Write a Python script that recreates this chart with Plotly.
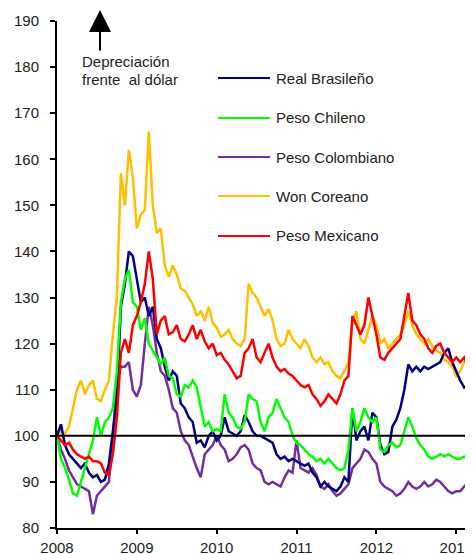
import numpy as np
import plotly.graph_objects as go

# fecha en fraccion de año, cada 0.05 años desde 2008
fechas = [round(2008 + 0.05 * i, 2) for i in range(105)]

won_coreano = [
    100, 101, 100.5, 102, 106, 110, 112, 109, 111, 112, 108, 107.5, 110, 112, 122, 130,
    157, 150, 162, 156, 145, 148, 149, 166, 150, 144, 145, 137, 134.5, 137, 135, 132,
    131.5, 130, 128.5, 126, 127, 125, 128, 124.5, 123.5, 121.5, 122, 123, 121, 120, 119.5,
    121, 133, 131, 130, 128, 126, 127.5, 125, 121, 119.5, 120, 123, 121, 120, 119, 121,
    119.5, 117, 116, 117, 115.5, 116, 114, 113, 112.5, 114, 116, 125, 127, 121, 120, 123,
    126, 124, 120, 121, 119, 120, 121, 122, 124, 127, 124, 122, 121, 120, 121, 119.5,
    118.5, 118, 116.5, 116, 115, 113, 114, 116, 117, 119,
]
peso_mexicano = [
    100, 99, 98, 98.5, 97, 96, 95.5, 95, 95.5, 94.5, 94.5, 94, 92, 91.5, 96, 104,
    118, 121, 118, 124, 126, 129, 133, 140, 134, 122, 125, 126, 122, 122.5, 124, 121,
    120.5, 122, 124, 121, 123, 120.5, 119, 120, 117.5, 118, 116.5, 115.5, 114, 112.5, 113,
    118, 119, 121, 117, 116, 118, 120, 117, 115, 114, 114.5, 113.5, 113, 112, 111, 110.5,
    111, 109, 108, 106.5, 107.5, 109, 108, 107, 109, 112, 113, 126, 124, 122, 124, 130,
    126, 122, 117, 116.5, 118, 119, 120, 121, 126, 131, 125, 124, 122, 121, 119, 118,
    119.5, 120, 118, 117, 116, 117, 116, 117, 115, 114,
]
real_brasileno = [
    100, 102.5, 98, 96, 95, 94, 93, 94, 92, 91, 91.5, 90, 90.5, 94, 101, 108,
    128, 133, 140, 139, 134, 129, 130, 126, 128, 121, 119, 115, 112, 114, 113, 107,
    106, 104, 103, 98.5, 99, 97.5, 100, 101, 99, 100, 104, 101, 100.5, 100, 101,
    104.5, 103, 101, 100, 100, 99.5, 99, 98.5, 96, 95, 95.5, 94.5, 95, 94.5, 94, 93.5,
    94, 92, 91, 89, 90, 89, 88.5, 88, 89, 91, 90, 106, 99, 101, 102, 99,
    105, 104, 98, 96, 96.5, 102, 103.5, 106, 110, 115.5, 114, 115, 114, 115, 114.5, 115,
    115.5, 116, 118, 119, 116, 114, 112, 110.5, 111, 114,
]
peso_chileno = [
    100, 95, 93, 90.5, 87.5, 87, 90, 93, 96, 99, 104, 100, 103, 104, 106, 114,
    129, 134, 136, 129, 128, 123, 125.5, 120, 118.5, 117, 115.5, 117, 113, 112.5, 109, 108.5,
    111, 110.5, 112, 110.5, 106, 102, 103, 101, 101.5, 101, 109, 105, 104, 102, 101.5,
    103, 109, 108, 107.5, 103, 101, 104, 105, 108, 106, 104, 103, 100, 98.5, 98, 97,
    96, 95.5, 94.5, 95, 94, 95, 94, 93, 92.5, 93, 97, 106, 101, 103, 106, 104,
    103, 104, 97, 96.5, 98, 98.5, 97.5, 98, 101, 104, 102, 99.5, 98, 97, 95.5, 95,
    95.5, 96, 95.5, 96, 95.5, 95, 95, 95.5, 95, 95,
]
peso_colombiano = [
    100, 97, 95, 92.5, 91, 89.5, 89, 88.5, 88, 83, 87, 88, 89, 90, 100, 112,
    115, 115, 116, 110, 108.5, 111, 120, 128, 124, 118, 114, 113, 110, 106, 105, 101,
    99, 98, 95.5, 93, 91, 96, 97, 98, 100, 98, 97, 94.5, 95, 96, 97.5,
    98, 97, 94, 93, 92.5, 90, 89.5, 90, 89.5, 89, 91, 92.5, 92, 99, 93, 92.5,
    92, 93, 91.5, 89, 88.5, 89.5, 88, 87, 87.5, 88.5, 89.5, 93, 94, 95, 97, 96.5,
    95, 94, 90, 89, 88.5, 88, 87, 87.5, 88.5, 90, 89, 88.5, 89, 90, 89, 89.5,
    90.5, 90, 89, 88, 87.5, 88, 88, 89, 90, 90.5,
]

nombres = ["Real Brasileño", "Peso Chileno", "Peso Colombiano", "Won Coreano", "Peso Mexicano"]
colores = ["#000080", "#00FF00", "#7030A0", "#FFC000", "#FF0000"]
series = [real_brasileno, peso_chileno, peso_colombiano, won_coreano, peso_mexicano]
orden = [3, 2, 0, 1, 4]  # orden de dibujo

anios = [2008, 2009, 2010, 2011, 2012, 2013]
y_ticks = list(range(80, 191, 10))

fig = go.Figure()
for i in orden:
    fig.add_trace(go.Scatter(
        x=fechas, y=series[i], mode="lines", name=nombres[i],
        line=dict(color=colores[i], width=2.5), showlegend=False,
    ))

fig.add_hline(y=100, line=dict(color="black", width=2))

# leyenda manual (posiciones en pixeles de la pagina -> coords del area de dibujo)
filas_y = [78, 118, 157, 196, 236]
for nombre, color, py in zip(nombres, colores, filas_y):
    yp = (528 - py) / 507
    fig.add_shape(type="line", xref="paper", yref="paper",
                  x0=(218 - 57) / 416, x1=(270 - 57) / 416, y0=yp, y1=yp,
                  line=dict(color=color, width=2))
    fig.add_annotation(text=nombre, xref="paper", yref="paper",
                       x=(274 - 57) / 416, y=yp, xanchor="left", yanchor="middle",
                       showarrow=False, font=dict(size=15))

fig.add_annotation(text="Depreciación", xref="paper", yref="paper",
                   x=(80 - 57) / 416, y=(528 - 62) / 507, xanchor="left", yanchor="middle",
                   showarrow=False, font=dict(size=15))
fig.add_annotation(text="frente  al dólar", xref="paper", yref="paper",
                   x=(80 - 57) / 416, y=(528 - 79) / 507, xanchor="left", yanchor="middle",
                   showarrow=False, font=dict(size=15))
fig.add_annotation(text="", xref="paper", yref="paper",
                   x=(100 - 57) / 416, y=(528 - 10) / 507,
                   axref="pixel", ayref="pixel", ax=0, ay=42,
                   showarrow=True, arrowhead=2, arrowwidth=2, arrowsize=2.2,
                   arrowcolor="black")

# la pagina tiene 8px de margen en el body
fig.update_layout(
    width=465, height=546,
    margin=dict(l=49, r=0, t=13, b=26),
    plot_bgcolor="white", paper_bgcolor="white",
    font=dict(family="Arial, Liberation Sans, sans-serif", size=15, color="#222"),
)
fig.update_xaxes(
    range=[2008, 2013.21], tickvals=anios, ticktext=[str(a) for a in anios],
    showgrid=False, zeroline=False, showline=True, linecolor="black", linewidth=2,
    ticks="outside", ticklen=4, tickwidth=1.5, tickcolor="black", ticklabelstandoff=1,
    automargin=False,
)
fig.update_yaxes(
    range=[80, 190], tickvals=y_ticks, showgrid=False, zeroline=False,
    showline=True, linecolor="black", linewidth=2,
    ticks="outside", ticklen=5, tickwidth=1.5, tickcolor="black", ticklabelstandoff=8,
    automargin=False,
)

fig.write_html("out.html")
